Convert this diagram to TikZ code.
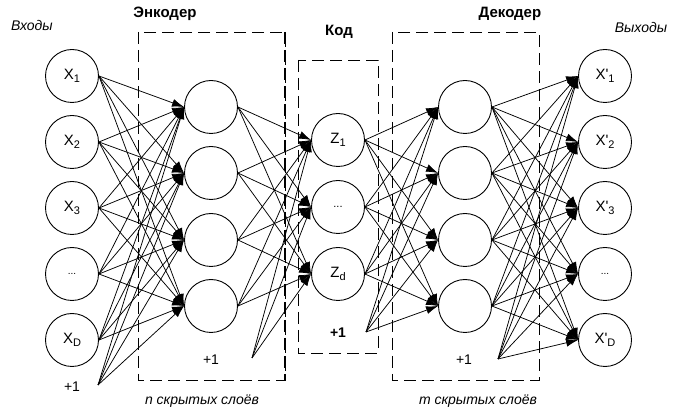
\documentclass[tikz,border=0pt]{standalone}
\usepackage{fontspec}
\setmainfont{Liberation Sans}
\usetikzlibrary{arrows.meta}
\newcommand\sbx[1]{\raisebox{-0.45ex}{\fontsize{11}{11}\selectfont #1}}
\begin{document}
\begin{tikzpicture}[x=1pt,y=-1pt,
 neuron/.style={circle,draw,line width=0.9pt,minimum size=53pt,inner sep=0pt,font=\fontsize{15}{17}\selectfont},
 conn/.style={line width=0.75pt,-{Latex[length=12pt,width=8pt]}},
 box/.style={draw,line width=0.8pt,dash pattern=on 12pt off 6pt},
 title/.style={font=\fontsize{15}{17}\selectfont\bfseries},
 ital/.style={font=\fontsize{14}{16}\selectfont\itshape},
 bias/.style={font=\fontsize{14}{16}\selectfont}]
\useasboundingbox (0,0) rectangle (683,411);
% boxes
\draw[box] (138,32) rectangle (285,380);
\draw[box,line width=1.3pt] (285,32) -- (285,380);
\draw[box] (298,60) rectangle (378,353);
\draw[box] (392,32) rectangle (539,380);
% nodes
\node[neuron] (i1) at (72,76) {X\sbx{1}};
\node[neuron] (i2) at (72,142) {X\sbx{2}};
\node[neuron] (i3) at (72,208) {X\sbx{3}};
\node[neuron] (i4) at (72,274) {\fontsize{10}{10}\selectfont ...};
\node[neuron] (i5) at (72,340) {X\sbx{D}};
\node[bias] (b0) at (72,387) {+1};
\coordinate (b0s) at (98,385);
\foreach \n/\y in {1/107,2/173,3/240,4/306} {
  \node[neuron] (h\n) at (211,\y) {};
  \node[neuron] (d\n) at (465,\y) {};
}
\node[bias] (b1) at (211,360) {+1};
\coordinate (b1s) at (252,358);
\node[neuron] (c1) at (338,140) {Z\sbx{1}};
\node[neuron] (c2) at (338,207) {\fontsize{11}{11}\selectfont ...};
\node[neuron] (c3) at (338,274) {Z\sbx{d}};
\node[bias,font=\fontsize{14}{16}\selectfont\bfseries] (b2) at (338,333) {+1};
\coordinate (b2s) at (366,332);
\node[bias] (b3) at (464,360) {+1};
\coordinate (b3s) at (498,359);
\node[neuron] (o1) at (605,76) {X\textquotesingle\sbx{1}};
\node[neuron] (o2) at (605,142) {X\textquotesingle\sbx{2}};
\node[neuron] (o3) at (605,208) {X\textquotesingle\sbx{3}};
\node[neuron] (o4) at (605,274) {\fontsize{10}{10}\selectfont ...};
\node[neuron] (o5) at (605,340) {X\textquotesingle\sbx{D}};
% connections
\foreach \a in {1,...,5} \foreach \b in {1,...,4} \draw[conn] (i\a.east) -- (h\b.west);
\foreach \b in {1,...,4} \draw[conn] (b0s) -- (h\b.west);
\foreach \a in {1,...,4} \foreach \b in {1,...,3} \draw[conn] (h\a.east) -- (c\b.west);
\foreach \b in {1,...,3} \draw[conn] (b1s) -- (c\b.west);
\foreach \a in {1,...,3} \foreach \b in {1,...,4} \draw[conn] (c\a.east) -- (d\b.west);
\foreach \b in {1,...,4} \draw[conn] (b2s) -- (d\b.west);
\foreach \a in {1,...,4} \foreach \b in {1,...,5} \draw[conn] (d\a.east) -- (o\b.west);
\foreach \b in {1,...,5} \draw[conn] (b3s) -- (o\b.west);
% labels
\node[ital] (tin) at (32,25) {Входы};
\node[ital] (tout) at (641,27) {Выходы};
\node[title] (tenc) at (165,14) {Энкодер};
\node[title] (tcode) at (339,32) {Код};
\node[title] (tdec) at (510,14) {Декодер};
\node[ital] (tn) at (202,401) {n скрытых слоёв};
\node[ital] (tm) at (478,401) {m скрытых слоёв};
\end{tikzpicture}
\end{document}
